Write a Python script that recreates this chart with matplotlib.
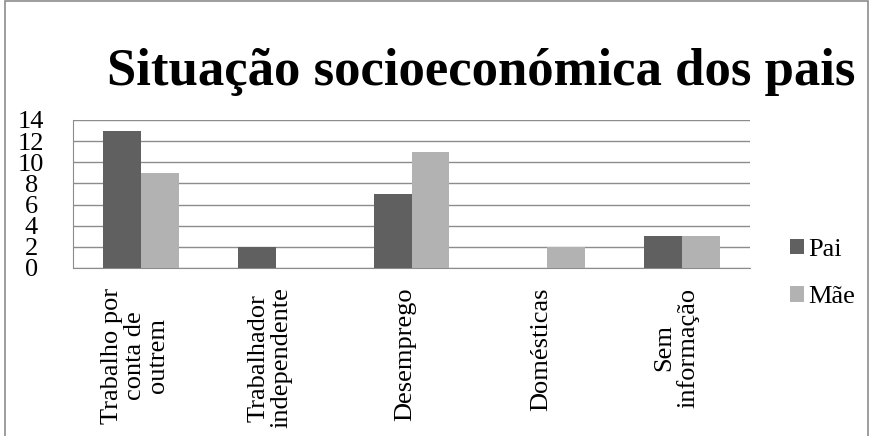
import numpy as np
import matplotlib.pyplot as plt
from matplotlib.patches import Rectangle
from matplotlib.transforms import ScaledTranslation

# data
categorias = ["Trabalho por\nconta de\noutrem", "Trabalhador\nindependente",
              "Desemprego", "Domésticas", "Sem\ninformação"]
pai = [13, 2, 7, 0, 3]
mae = [9, 0, 11, 2, 3]
series = ["Pai", "Mãe"]
cores = ["#606060", "#b2b2b2"]

plt.rcParams['font.family'] = ['Liberation Serif', 'DejaVu Serif']

fig = plt.figure(figsize=(8.72, 4.36), dpi=100)
ax = fig.add_axes([73/872, 1-268/436, (750-73)/872, 148/436])

x = np.arange(len(categorias))
w = 0.28
ax.bar(x - w/2, pai, w, color=cores[0], label=series[0], zorder=3)
ax.bar(x + w/2, mae, w, color=cores[1], label=series[1], zorder=3)

ax.set_xlim(-0.5, len(categorias) - 0.5)
ax.set_ylim(0, 14)
ax.set_yticks(range(0, 15, 2))
ax.yaxis.grid(True, color="#8c8c8c", linewidth=1, zorder=0)
ax.set_xticks(x)
ax.set_xticklabels(categorias, rotation=90, fontsize=19, ha="center", va="top",
                   multialignment="center", linespacing=1.05)
ax.tick_params(axis="both", length=0)
ax.tick_params(axis="y", labelsize=19, pad=30)
ax.tick_params(axis="x", pad=14)
for s in ["top", "right"]:
    ax.spines[s].set_visible(False)
ax.spines["left"].set_color("#8c8c8c")
ax.spines["bottom"].set_color("#8c8c8c")
for t in ax.get_yticklabels():
    t.set_horizontalalignment("center")
# labels sit a little left of the category centre in the original
shift = ScaledTranslation(-6/100, 0, fig.dpi_scale_trans)
for t in ax.get_xticklabels():
    t.set_transform(t.get_transform() + shift)

fig.text(0.552, 0.835, "Situação socioeconómica dos pais", fontsize=38,
         fontweight="bold", ha="center", va="center")

fig.legend(loc="upper left", bbox_to_anchor=(779/872, 1-228/436), frameon=False,
           fontsize=19, handlelength=0.55, handleheight=0.55, handletextpad=0.15,
           labelspacing=0.95, borderaxespad=0)

fig.patches.append(Rectangle((0.006, -0.01), 0.989, 1.007, transform=fig.transFigure,
                             fill=False, edgecolor="#8c8c8c", linewidth=1.2))

fig.savefig("out.png", dpi=100)
